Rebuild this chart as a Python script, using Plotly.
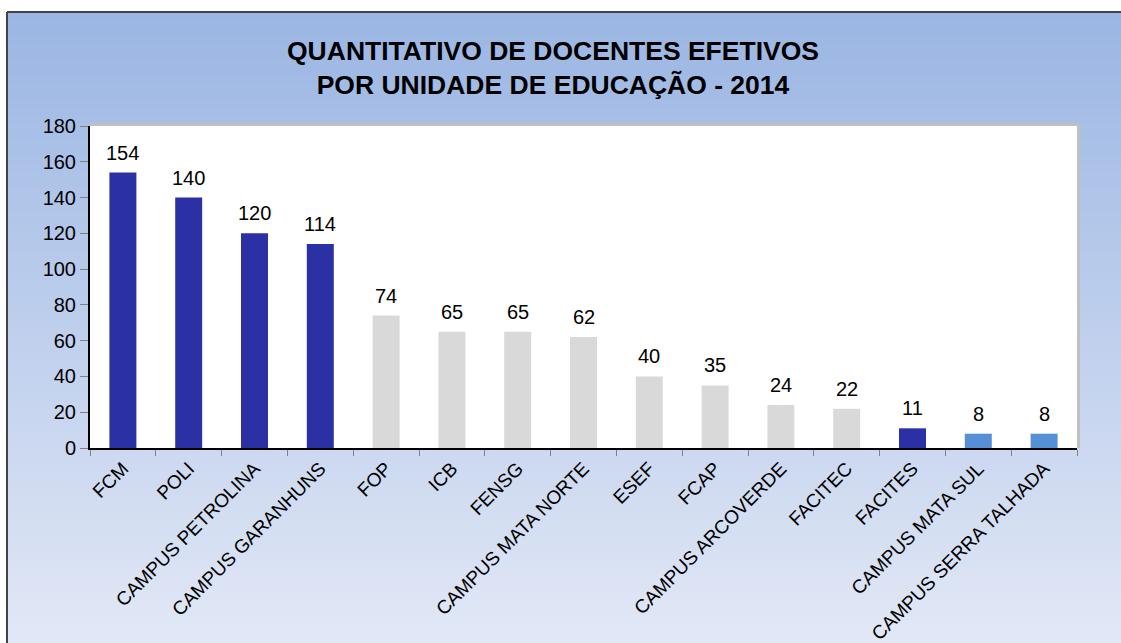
import plotly.graph_objects as go

categories = ["FCM", "POLI", "CAMPUS PETROLINA", "CAMPUS GARANHUNS", "FOP", "ICB", "FENSG",
              "CAMPUS MATA NORTE", "ESEF", "FCAP", "CAMPUS ARCOVERDE", "FACITEC", "FACITES",
              "CAMPUS MATA SUL", "CAMPUS SERRA TALHADA"]
values = [154, 140, 120, 114, 74, 65, 65, 62, 40, 35, 24, 22, 11, 8, 8]
groups = ["dark", "dark", "dark", "dark", "gray", "gray", "gray", "gray", "gray", "gray",
          "gray", "gray", "dark", "light", "light"]
group_colors = {"dark": "#2B30A5", "gray": "#D9D9D9", "light": "#558FD5"}
title_lines = ["QUANTITATIVO DE DOCENTES EFETIVOS", "POR UNIDADE DE EDUCAÇÃO - 2014"]

W, H = 1121, 643
ML, MR, MT, MB = 90, 44, 126, 195
PW, PH = W - ML - MR, H - MT - MB
FONT = "Liberation Sans, Arial, sans-serif"

def px_x(px):
    return (px - ML) / PW

def px_y(py):
    return (H - MB - py) / PH

shapes = []
# gradient background bands
top_c = (155, 182, 227)
bot_c = (226, 232, 246)
n = 80
y0p, y1p = 12, H + 4
for i in range(n):
    t = i / (n - 1)
    c = tuple(round(top_c[k] + (bot_c[k] - top_c[k]) * t) for k in range(3))
    ya = y0p + (y1p - y0p) * i / n
    yb = y0p + (y1p - y0p) * (i + 1) / n + 1
    shapes.append(dict(type="rect", xref="paper", yref="paper", layer="below",
                       x0=px_x(7), x1=px_x(W + 5), y0=px_y(ya), y1=px_y(yb),
                       fillcolor="rgb(%d,%d,%d)" % c, line=dict(width=0)))
# frame lines
shapes.append(dict(type="line", xref="paper", yref="paper", layer="below",
                   x0=px_x(7), x1=px_x(W + 5), y0=px_y(12), y1=px_y(12),
                   line=dict(color="#444444", width=2)))
shapes.append(dict(type="line", xref="paper", yref="paper", layer="below",
                   x0=px_x(7), x1=px_x(7), y0=px_y(12), y1=px_y(H + 5),
                   line=dict(color="#444444", width=2)))
# plot area shadow and white fill
shapes.append(dict(type="rect", xref="paper", yref="paper", layer="below",
                   x0=0, x1=px_x(ML + PW + 3), y0=0, y1=px_y(MT - 3),
                   fillcolor="#C0C0C0", line=dict(width=0)))
shapes.append(dict(type="rect", xref="paper", yref="paper", layer="below",
                   x0=0, x1=1, y0=0, y1=1,
                   fillcolor="#FFFFFF", line=dict(width=0)))

fig = go.Figure()
fig.add_trace(go.Bar(
    x=categories, y=values,
    marker=dict(color=[group_colors[g] for g in groups], line=dict(width=0)),
    width=0.41, hoverinfo="x+y",
))

annotations = [dict(x=c, y=v, xref="x", yref="y", text=str(v), showarrow=False,
                    yanchor="bottom", yshift=7, font=dict(size=20, color="#000000", family=FONT))
               for c, v in zip(categories, values)]
annotations.append(dict(xref="paper", yref="paper", x=px_x(553), y=px_y(68),
                        xanchor="center", yanchor="middle", showarrow=False,
                        text="<b>" + "<br>".join(title_lines) + "</b>",
                        font=dict(size=26.5, color="#000000", family=FONT)))

fig.update_layout(
    width=W, height=H,
    margin=dict(l=ML, r=MR, t=MT, b=MB, pad=0, autoexpand=False),
    paper_bgcolor="#FFFFFF", plot_bgcolor="rgba(0,0,0,0)",
    font=dict(family=FONT, color="#000000"),
    shapes=shapes, annotations=annotations,
    showlegend=False,
    xaxis=dict(type="category", tickangle=-45, tickson="boundaries", ticks="outside",
               ticklen=6, tickcolor="#808080", showline=True, linecolor="#000000", linewidth=2,
               showgrid=False, tickfont=dict(size=19, family=FONT), range=[-0.5, 14.5],
               automargin=False),
    yaxis=dict(range=[0, 180], dtick=20, ticks="outside", ticklen=8, tickcolor="#808080",
               showline=True, linecolor="#000000", linewidth=2, showgrid=False, zeroline=False,
               tickfont=dict(size=20, family=FONT), automargin=False),
)

fig.write_html("out.html", config={"displayModeBar": False},
               post_script="document.body.style.margin='0';document.body.style.overflow='hidden';")
